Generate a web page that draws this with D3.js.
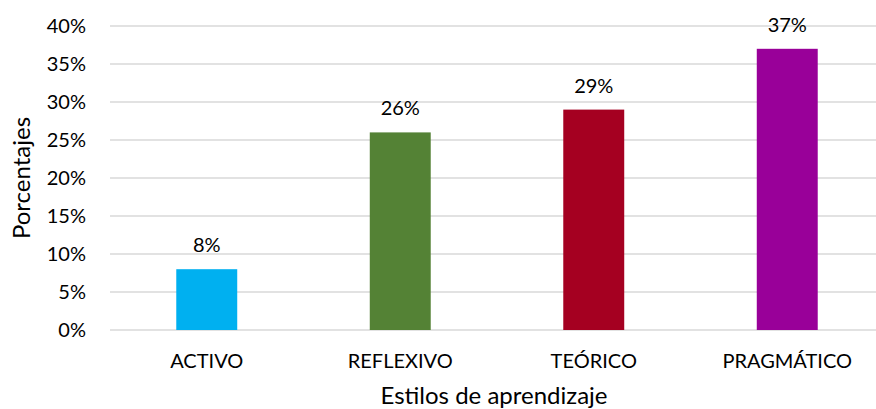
<!DOCTYPE html>
<html>
<head>
<meta charset="utf-8">
<script src="https://cdn.jsdelivr.net/npm/d3@7"></script>
<style>
  body { margin: 0; background: #fff; }
  text { font-family: Lato, "Open Sans", sans-serif; fill: #000; }
</style>
</head>
<body>
<script>
// data
const categories = ['ACTIVO', 'REFLEXIVO', 'TEÓRICO', 'PRAGMÁTICO'];
const values = [8, 26, 29, 37];
const colors = ['#00B0F0', '#548235', '#A50021', '#990099'];
const yTicks = [0, 5, 10, 15, 20, 25, 30, 35, 40];

const W = 876, H = 409;
const margin = { top: 26, right: -8, bottom: 79, left: 110 };
const width = W - margin.left - margin.right;
const height = H - margin.top - margin.bottom;

const svg = d3.select('body').append('svg')
  .attr('width', W)
  .attr('height', H);

const g = svg.append('g')
  .attr('transform', `translate(${margin.left},${margin.top})`);

const x = d3.scaleBand()
  .domain(categories)
  .range([0, width])
  .paddingInner(0.685)
  .paddingOuter(0.3425);

const y = d3.scaleLinear().domain([0, 40]).range([height, 0]);

// gridlines
g.selectAll('.grid')
  .data(yTicks)
  .enter().append('line')
  .attr('x1', 0)
  .attr('x2', width)
  .attr('y1', d => y(d))
  .attr('y2', d => y(d))
  .attr('stroke', '#d9d9d9')
  .attr('stroke-width', 1.3);

// y axis labels
g.selectAll('.ytick')
  .data(yTicks)
  .enter().append('text')
  .attr('x', -24)
  .attr('y', d => y(d))
  .attr('dy', '0.35em')
  .style('text-anchor', 'end')
  .style('font-size', '20px')
  .text(d => d + '%');

// bars
g.selectAll('.bar')
  .data(values)
  .enter().append('rect')
  .attr('x', (d, i) => x(categories[i]))
  .attr('width', x.bandwidth())
  .attr('y', d => y(d))
  .attr('height', d => height - y(d))
  .attr('fill', (d, i) => colors[i]);

// value labels
g.selectAll('.val')
  .data(values)
  .enter().append('text')
  .attr('x', (d, i) => x(categories[i]) + x.bandwidth() / 2)
  .attr('y', d => y(d) - 17)
  .style('text-anchor', 'middle')
  .style('font-size', '20px')
  .text(d => d + '%');

// category labels
g.selectAll('.cat')
  .data(categories)
  .enter().append('text')
  .attr('x', d => x(d) + x.bandwidth() / 2)
  .attr('y', height + 38)
  .style('text-anchor', 'middle')
  .style('font-size', '20px')
  .text(d => d);

// axis titles
svg.append('text')
  .attr('x', 494)
  .attr('y', 404)
  .style('text-anchor', 'middle')
  .style('font-size', '24px')
  .text('Estilos de aprendizaje');

svg.append('text')
  .attr('transform', 'translate(30,178) rotate(-90)')
  .style('text-anchor', 'middle')
  .style('font-size', '24px')
  .text('Porcentajes');
</script>
</body>
</html>
